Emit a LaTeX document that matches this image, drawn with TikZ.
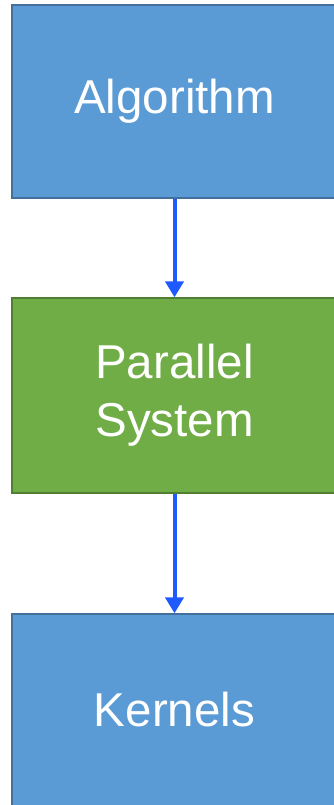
\documentclass[tikz,border=0pt]{standalone}
\usepackage{fontspec}
\setmainfont{Liberation Sans}
\usepackage{tikz}
\usepackage{xcolor}
\usetikzlibrary{
    arrows.meta,
    positioning
}
\definecolor{boxblue}{HTML}{5B9BD5}
\definecolor{edgeblue}{HTML}{41719C}
\definecolor{boxgreen}{HTML}{70AD47}
\definecolor{edgegreen}{HTML}{507E32}
\definecolor{arrowblue}{RGB}{31,90,255}

\begin{document}
\begin{tikzpicture}[x=1pt, y=-1pt,
    block/.style={draw, line width=1.3pt, text=white, align=center,
        minimum width=325pt, font=\fontsize{47.5}{58}\selectfont},
    flow/.style={draw=arrowblue, line width=4pt,
        -{Triangle[width=18pt, length=16pt]}}]
                                \useasboundingbox (0, 0) rectangle (334, 805);
                                \node[block, fill=boxblue, draw=edgeblue, minimum height=193pt] (alg) at (174.5, 101.5) {Algorithm};
                                \node[block, fill=boxgreen, draw=edgegreen, minimum height=195pt] (par) at (174.5, 395.5) {Parallel\\System};
                                \node[block, fill=boxblue, draw=edgeblue, minimum height=192pt] (ker) at (174.5, 710) {Kernels};
                                \draw[flow] (alg) -- (par);
                                \draw[flow] (par) -- (ker);
                            \end{tikzpicture}
\end{document}
